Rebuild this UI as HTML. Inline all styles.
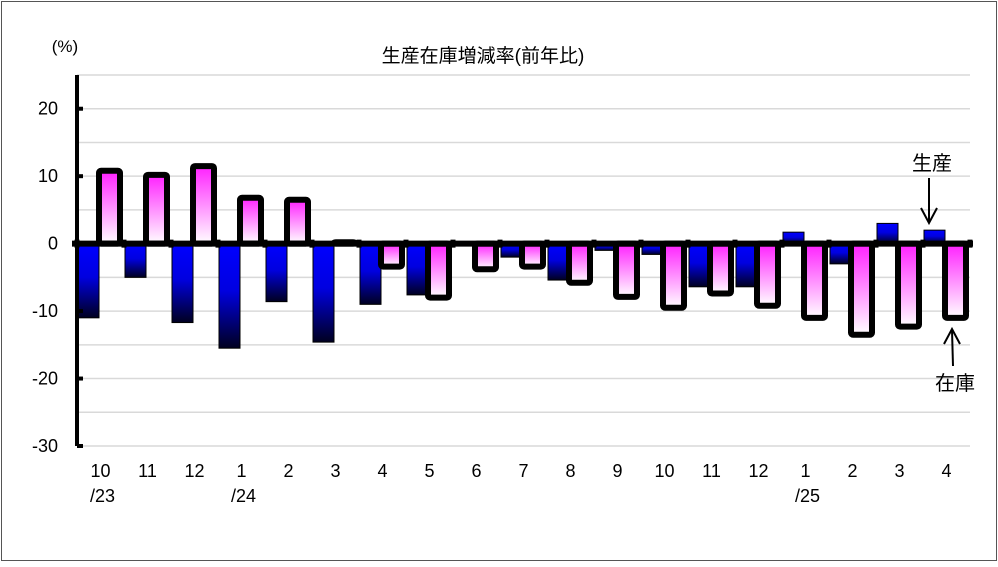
<!DOCTYPE html>
<html><head><meta charset="utf-8"><style>
body{margin:0;background:#fff}
svg text{font-family:"Liberation Sans","Noto Sans CJK JP",sans-serif;fill:#000}
</style></head><body>
<svg width="998" height="562" xmlns="http://www.w3.org/2000/svg">
<defs>
<linearGradient id="gb" x1="0" y1="0" x2="0" y2="1"><stop offset="0" stop-color="#0000ff"/><stop offset="0.45" stop-color="#0000e0"/><stop offset="1" stop-color="#000020"/></linearGradient>
<linearGradient id="gp" x1="0" y1="0" x2="0" y2="1"><stop offset="0" stop-color="#ff20ff"/><stop offset="1" stop-color="#ffffff"/></linearGradient>
</defs>
<rect x="1.5" y="1.5" width="995" height="559" fill="#fff" stroke="#555"/>
<text x="483" y="62" font-size="19" text-anchor="middle">生産在庫増減率(前年比)</text>
<text x="65" y="52" font-size="17" text-anchor="middle">(%)</text>
<g id="grid"></g><g id="bars"></g><g id="axes"></g>
<text x="932" y="170" font-size="20" text-anchor="middle">生産</text>
<g stroke="#000" stroke-width="2" fill="none"><line x1="929" y1="178" x2="929" y2="222"/><polyline points="921,208 929,223 937,208"/></g>
<text x="955" y="390" font-size="20" text-anchor="middle">在庫</text>
<g stroke="#000" stroke-width="2" fill="none"><line x1="952" y1="330" x2="953" y2="366"/><polyline points="944,344 952,329 960,344"/></g>
</svg>
<script>
const categories=["10","11","12","1","2","3","4","5","6","7","8","9","10","11","12","1","2","3","4"];
const subLabels=["/23","","","/24","","","","","","","","","","","","/25","","",""];
const production=[-11,-5,-11.7,-15.5,-8.6,-14.6,-9,-7.6,-0.3,-2,-5.4,-1,-1.6,-6.4,-6.4,1.7,-3,3,2];
const inventory=[10.8,10.2,11.5,6.8,6.5,0.2,-3.4,-8,-3.8,-3.4,-5.8,-7.9,-9.5,-7.4,-9.2,-11,-13.5,-12.3,-11];
const yTicks=[20,10,0,-10,-20,-30];
const NS="http://www.w3.org/2000/svg";
const x0=77,x1=970,yTop=75,yBot=446,vMax=25,vMin=-30;
const step=(x1-x0)/categories.length;
function y(v){return yTop+(vMax-v)/(vMax-vMin)*(yBot-yTop);}
function cx(i){return x0+step*(i+0.5);}
function mk(tag,attrs,parent){const e=document.createElementNS(NS,tag);for(const k in attrs)e.setAttribute(k,attrs[k]);parent.appendChild(e);return e;}
const grid=document.getElementById('grid'),bars=document.getElementById('bars'),axes=document.getElementById('axes');
for(let v=vMax;v>=vMin;v-=5){if(v===0)continue;const l=mk('line',{x1:x0,x2:x1,y1:y(v),y2:y(v),stroke:'#d9d9d9','stroke-width':1.5},grid);

}
categories.forEach((c,i)=>{
 const p=production[i];
 const r=mk('rect',{x:cx(i)-22.5,y:Math.min(y(p),y(0)),width:21,height:Math.abs(y(p)-y(0)),fill:'url(#gb)',stroke:'#000','stroke-width':1},bars);
 
 
 const q=inventory[i];
 const r2=mk('rect',{x:cx(i)-1.5,y:Math.min(y(q),y(0)),width:21,height:Math.abs(y(q)-y(0)),fill:'url(#gp)',stroke:'#000','stroke-width':6,rx:2},bars);
 
 
 const t=mk('text',{x:cx(i),y:477,'font-size':18,'text-anchor':'middle'},axes);t.textContent=c;
 
 
 if(subLabels[i]){const s=mk('text',{x:cx(i)+2,y:502,'font-size':18,'text-anchor':'middle'},axes);s.textContent=subLabels[i];
 
 }
});
const za=mk('line',{x1:x0-5,x2:x1+3,y1:y(0),y2:y(0),stroke:'#000','stroke-width':6},axes);


for(let i=0;i<=categories.length;i++){const tk=mk('line',{x1:x0+step*i,x2:x0+step*i,y1:y(0)-4,y2:y(0)+4,stroke:'#000','stroke-width':5},axes);

}
const ya=mk('line',{x1:x0,x2:x0,y1:yTop,y2:yBot,stroke:'#000','stroke-width':4},axes);


yTicks.forEach(v=>{
 const tk=mk('line',{x1:x0,x2:x0+6,y1:y(v),y2:y(v),stroke:'#000','stroke-width':4},axes);
 
 
 const t=mk('text',{x:58,y:y(v)+6,'font-size':18,'text-anchor':'end'},axes);t.textContent=v;
 
 
});
</script>
</body></html>
